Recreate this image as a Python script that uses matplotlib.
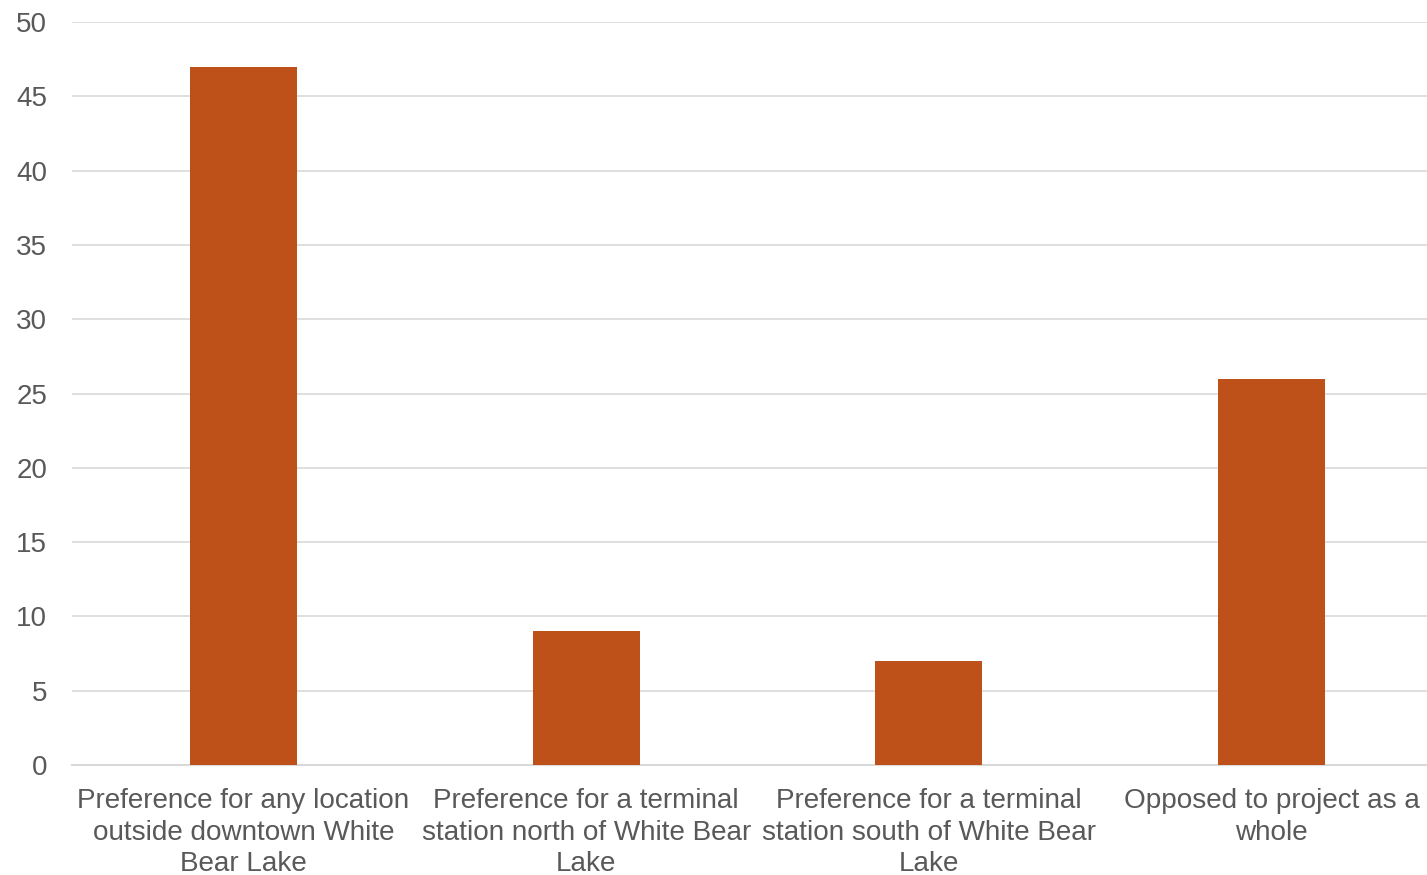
import matplotlib.pyplot as plt
import numpy as np

# 数据
categories = ['Preference for any location\noutside downtown White\nBear Lake',
              'Preference for a terminal\nstation north of White Bear\nLake',
              'Preference for a terminal\nstation south of White Bear\nLake',
              'Opposed to project as a\nwhole']
counts = [47, 9, 7, 26]

plt.rcParams['font.family'] = ['Liberation Sans', 'DejaVu Sans']

fig = plt.figure(figsize=(14.27, 8.75), dpi=100)
ax = fig.add_axes([72 / 1427, 110 / 875, 1371 / 1427, 743 / 875])

x = np.arange(len(categories))
ax.bar(x, counts, width=0.312, color='#BE5119', zorder=3)

ax.set_xlim(-0.5, len(categories) - 0.5)
ax.set_ylim(0, 50)
ax.set_yticks(np.arange(0, 51, 5))
ax.set_xticks(x)
ax.set_xticklabels(categories, fontsize=20.1, color='#595959', linespacing=1.28)
ax.tick_params(axis='y', labelsize=20, labelcolor='#595959', length=0, pad=18)
ax.tick_params(axis='x', length=0, pad=16.5)

ax.grid(axis='y', color='#D9D9D9', linewidth=1.2, zorder=0)
for s in ['top', 'right', 'left']:
    ax.spines[s].set_visible(False)
ax.spines['bottom'].set_color('#D9D9D9')
ax.spines['bottom'].set_linewidth(1.5)

plt.savefig('out.png')
